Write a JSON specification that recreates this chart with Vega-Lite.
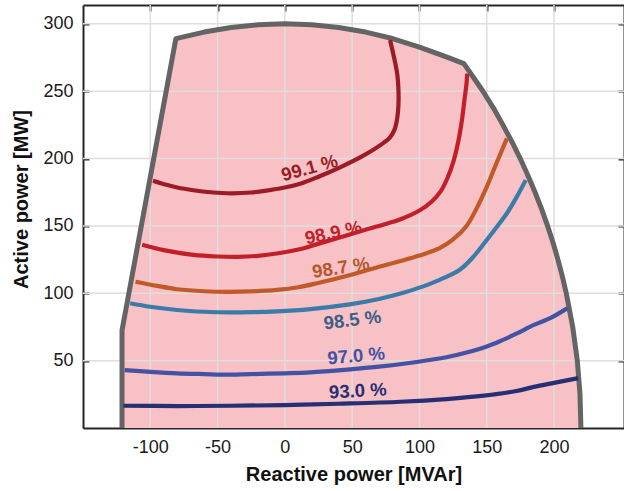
{
  "$schema": "https://vega.github.io/schema/vega-lite/v6.json",
  "width": 541,
  "height": 423,
  "autosize": {"type": "none"},
  "padding": {"left": 83, "top": 5, "right": 0, "bottom": 63},
  "background": "white",
  "config": {
    "view": {"stroke": null},
    "font": "Liberation Sans",
    "axis": {
      "domainColor": "#262626",
      "domainWidth": 2,
      "tickColor": "#262626",
      "tickWidth": 2,
      "tickSize": -6,
      "labelFont": "Liberation Sans",
      "labelFontSize": 18,
      "labelColor": "#1a1a1a",
      "titleFont": "Liberation Sans",
      "titleFontSize": 20,
      "titleFontWeight": "bold",
      "titleColor": "#111111",
      "grid": false
    }
  },
  "datasets": {
    "top": [
      {"q": -121, "p": 72.5}, {"q": -81, "p": 289}, {"q": -60, "p": 293.9}, {"q": -40, "p": 297.3},
      {"q": -20, "p": 299.3}, {"q": 0, "p": 300}, {"q": 20, "p": 299.3}, {"q": 40, "p": 297.3},
      {"q": 60, "p": 293.9}, {"q": 80, "p": 289.1}, {"q": 100, "p": 282.8}, {"q": 120, "p": 275.5},
      {"q": 133, "p": 270.5}, {"q": 140.3, "p": 260}, {"q": 147.2, "p": 250}, {"q": 155, "p": 237.5}, {"q": 162, "p": 225}, {"q": 168.7, "p": 212.5}, {"q": 174.9, "p": 200},
      {"q": 180.6, "p": 187.5}, {"q": 185.9, "p": 175}, {"q": 190.8, "p": 162.5}, {"q": 195.2, "p": 150}, {"q": 199.3, "p": 137.5}, {"q": 202.9, "p": 125}, {"q": 206.2, "p": 112.5}, {"q": 209.1, "p": 100},
      {"q": 213.9, "p": 75}, {"q": 217.3, "p": 50}, {"q": 219.3, "p": 25}, {"q": 220, "p": 0}
    ],
    "path": [
      {"i": 0, "q": -121, "p": 0}, {"i": 1, "q": -121, "p": 72.5}, {"i": 2, "q": -81, "p": 289},
      {"i": 3, "q": -60, "p": 293.9}, {"i": 4, "q": -40, "p": 297.3}, {"i": 5, "q": -20, "p": 299.3},
      {"i": 6, "q": 0, "p": 300}, {"i": 7, "q": 20, "p": 299.3}, {"i": 8, "q": 40, "p": 297.3},
      {"i": 9, "q": 60, "p": 293.9}, {"i": 10, "q": 80, "p": 289.1}, {"i": 11, "q": 100, "p": 282.8},
      {"i": 12, "q": 120, "p": 275.5}, {"i": 13, "q": 133, "p": 270.5}, {"i": 14, "q": 140.3, "p": 260}, {"i": 15, "q": 147.2, "p": 250},
      {"i": 16, "q": 155, "p": 237.5}, {"i": 17, "q": 162, "p": 225}, {"i": 18, "q": 168.7, "p": 212.5}, {"i": 19, "q": 174.9, "p": 200},
      {"i": 20, "q": 180.6, "p": 187.5}, {"i": 21, "q": 185.9, "p": 175}, {"i": 22, "q": 190.8, "p": 162.5},
      {"i": 23, "q": 195.2, "p": 150}, {"i": 24, "q": 199.3, "p": 137.5}, {"i": 25, "q": 202.9, "p": 125}, {"i": 26, "q": 206.2, "p": 112.5}, {"i": 27, "q": 209.1, "p": 100},
      {"i": 28, "q": 213.9, "p": 75}, {"i": 29, "q": 217.3, "p": 50}, {"i": 30, "q": 219.3, "p": 25},
      {"i": 31, "q": 220, "p": 0}
    ],
    "contours": [
      {"level": "99.1", "i": 0, "q": -98, "p": 183.6}, {"level": "99.1", "i": 1, "q": -88, "p": 180.5},
      {"level": "99.1", "i": 2, "q": -80, "p": 178.5}, {"level": "99.1", "i": 3, "q": -68, "p": 176.5},
      {"level": "99.1", "i": 4, "q": -55, "p": 175}, {"level": "99.1", "i": 5, "q": -40, "p": 174.2},
      {"level": "99.1", "i": 6, "q": -25, "p": 174.8}, {"level": "99.1", "i": 7, "q": -12, "p": 176.5},
      {"level": "99.1", "i": 8, "q": 0, "p": 178.5}, {"level": "99.1", "i": 9, "q": 12, "p": 181.5},
      {"level": "99.1", "i": 10, "q": 25, "p": 186.5}, {"level": "99.1", "i": 11, "q": 41, "p": 193.5},
      {"level": "99.1", "i": 12, "q": 58, "p": 202}, {"level": "99.1", "i": 13, "q": 71, "p": 210},
      {"level": "99.1", "i": 14, "q": 78, "p": 215.5}, {"level": "99.1", "i": 15, "q": 81.5, "p": 221.5},
      {"level": "99.1", "i": 16, "q": 83.5, "p": 230}, {"level": "99.1", "i": 17, "q": 84.4, "p": 240},
      {"level": "99.1", "i": 18, "q": 84.4, "p": 251}, {"level": "99.1", "i": 19, "q": 83.6, "p": 262},
      {"level": "99.1", "i": 20, "q": 82, "p": 271}, {"level": "99.1", "i": 21, "q": 80, "p": 280},
      {"level": "99.1", "i": 22, "q": 78.2, "p": 288},

      {"level": "98.9", "i": 0, "q": -106, "p": 136}, {"level": "98.9", "i": 1, "q": -90, "p": 132},
      {"level": "98.9", "i": 2, "q": -68, "p": 128.5}, {"level": "98.9", "i": 3, "q": -50, "p": 127.3},
      {"level": "98.9", "i": 4, "q": -35, "p": 127}, {"level": "98.9", "i": 5, "q": -20, "p": 127.8},
      {"level": "98.9", "i": 6, "q": -6, "p": 129.5}, {"level": "98.9", "i": 7, "q": 10, "p": 132.5},
      {"level": "98.9", "i": 8, "q": 24, "p": 136.5}, {"level": "98.9", "i": 9, "q": 42, "p": 141.8},
      {"level": "98.9", "i": 10, "q": 61, "p": 147.5}, {"level": "98.9", "i": 11, "q": 75, "p": 151.5},
      {"level": "98.9", "i": 12, "q": 86, "p": 155}, {"level": "98.9", "i": 13, "q": 100, "p": 161.5},
      {"level": "98.9", "i": 14, "q": 109, "p": 168}, {"level": "98.9", "i": 15, "q": 116, "p": 176},
      {"level": "98.9", "i": 16, "q": 121, "p": 186}, {"level": "98.9", "i": 17, "q": 125, "p": 197},
      {"level": "98.9", "i": 18, "q": 128.5, "p": 211}, {"level": "98.9", "i": 19, "q": 131.5, "p": 228},
      {"level": "98.9", "i": 20, "q": 133.5, "p": 244}, {"level": "98.9", "i": 21, "q": 135, "p": 256},
      {"level": "98.9", "i": 22, "q": 135.5, "p": 263},

      {"level": "98.7", "i": 0, "q": -111, "p": 108.6}, {"level": "98.7", "i": 1, "q": -95, "p": 105.5},
      {"level": "98.7", "i": 2, "q": -80, "p": 103}, {"level": "98.7", "i": 3, "q": -60, "p": 101.5},
      {"level": "98.7", "i": 4, "q": -43, "p": 101.1}, {"level": "98.7", "i": 5, "q": -25, "p": 101.4},
      {"level": "98.7", "i": 6, "q": -6, "p": 102.5}, {"level": "98.7", "i": 7, "q": 10, "p": 104.5},
      {"level": "98.7", "i": 8, "q": 24, "p": 107.5}, {"level": "98.7", "i": 9, "q": 50, "p": 114},
      {"level": "98.7", "i": 10, "q": 73, "p": 120.5}, {"level": "98.7", "i": 11, "q": 86, "p": 124},
      {"level": "98.7", "i": 12, "q": 100, "p": 128}, {"level": "98.7", "i": 13, "q": 115, "p": 133.5},
      {"level": "98.7", "i": 14, "q": 125, "p": 140}, {"level": "98.7", "i": 15, "q": 135, "p": 150},
      {"level": "98.7", "i": 16, "q": 143, "p": 164}, {"level": "98.7", "i": 17, "q": 150, "p": 179},
      {"level": "98.7", "i": 18, "q": 157, "p": 196}, {"level": "98.7", "i": 19, "q": 165, "p": 215},

      {"level": "98.5", "i": 0, "q": -115, "p": 92.6}, {"level": "98.5", "i": 1, "q": -100, "p": 90},
      {"level": "98.5", "i": 2, "q": -80, "p": 87.6}, {"level": "98.5", "i": 3, "q": -60, "p": 86.3},
      {"level": "98.5", "i": 4, "q": -43, "p": 85.9}, {"level": "98.5", "i": 5, "q": -25, "p": 86},
      {"level": "98.5", "i": 6, "q": -6, "p": 86.6}, {"level": "98.5", "i": 7, "q": 19, "p": 88.3},
      {"level": "98.5", "i": 8, "q": 48, "p": 91.8}, {"level": "98.5", "i": 9, "q": 70, "p": 95.8},
      {"level": "98.5", "i": 10, "q": 86, "p": 99.8}, {"level": "98.5", "i": 11, "q": 100, "p": 104.2},
      {"level": "98.5", "i": 12, "q": 115, "p": 110}, {"level": "98.5", "i": 13, "q": 130, "p": 117.5},
      {"level": "98.5", "i": 14, "q": 140, "p": 127}, {"level": "98.5", "i": 15, "q": 150, "p": 139.6},
      {"level": "98.5", "i": 16, "q": 158, "p": 150}, {"level": "98.5", "i": 17, "q": 165, "p": 159.4},
      {"level": "98.5", "i": 18, "q": 172, "p": 171}, {"level": "98.5", "i": 19, "q": 179, "p": 184},

      {"level": "97.0", "i": 0, "q": -119, "p": 43}, {"level": "97.0", "i": 1, "q": -100, "p": 41.7},
      {"level": "97.0", "i": 2, "q": -80, "p": 40.6}, {"level": "97.0", "i": 3, "q": -60, "p": 40},
      {"level": "97.0", "i": 4, "q": -43, "p": 39.6}, {"level": "97.0", "i": 5, "q": -26, "p": 40},
      {"level": "97.0", "i": 6, "q": 0, "p": 40.6}, {"level": "97.0", "i": 7, "q": 19, "p": 41.3},
      {"level": "97.0", "i": 8, "q": 48, "p": 43.5}, {"level": "97.0", "i": 9, "q": 70, "p": 45.5},
      {"level": "97.0", "i": 10, "q": 98, "p": 49}, {"level": "97.0", "i": 11, "q": 120, "p": 52.5},
      {"level": "97.0", "i": 12, "q": 135, "p": 56}, {"level": "97.0", "i": 13, "q": 150, "p": 60.5},
      {"level": "97.0", "i": 14, "q": 160, "p": 64.5}, {"level": "97.0", "i": 15, "q": 172, "p": 70},
      {"level": "97.0", "i": 16, "q": 185, "p": 76.5}, {"level": "97.0", "i": 17, "q": 198, "p": 82},
      {"level": "97.0", "i": 18, "q": 210, "p": 89},

      {"level": "93.0", "i": 0, "q": -120, "p": 16.5}, {"level": "93.0", "i": 1, "q": -80, "p": 16.3},
      {"level": "93.0", "i": 2, "q": -40, "p": 16.5}, {"level": "93.0", "i": 3, "q": 0, "p": 17},
      {"level": "93.0", "i": 4, "q": 40, "p": 18}, {"level": "93.0", "i": 5, "q": 86, "p": 19.5},
      {"level": "93.0", "i": 6, "q": 120, "p": 21.5}, {"level": "93.0", "i": 7, "q": 148, "p": 24},
      {"level": "93.0", "i": 8, "q": 172, "p": 27.5}, {"level": "93.0", "i": 9, "q": 185, "p": 30.5},
      {"level": "93.0", "i": 10, "q": 200, "p": 33.5}, {"level": "93.0", "i": 11, "q": 218, "p": 37}
    ],
    "labels": [
      {"level": "99.1", "q": 18.3, "p": 193, "text": "99.1 %"},
      {"level": "98.9", "q": 36.1, "p": 145, "text": "98.9 %"},
      {"level": "98.7", "q": 41.6, "p": 119, "text": "98.7 %"},
      {"level": "98.5", "q": 50.2, "p": 80.2, "text": "98.5 %"},
      {"level": "97.0", "q": 52.9, "p": 53.5, "text": "97.0 %"},
      {"level": "93.0", "q": 54.2, "p": 27.5, "text": "93.0 %"}
    ],
    "xgrid": [{"q": -100}, {"q": -50}, {"q": 0}, {"q": 50}, {"q": 100}, {"q": 150}, {"q": 200}],
    "ygrid": [{"p": 50}, {"p": 100}, {"p": 150}, {"p": 200}, {"p": 250}, {"p": 300}]
  },
  "layer": [
    {
      "data": {"name": "top"},
      "mark": {"type": "area", "color": "#f7c1c5", "opacity": 1},
      "encoding": {
        "x": {
          "field": "q", "type": "quantitative",
          "scale": {"domain": [-150, 252], "nice": false, "zero": false},
          "axis": {"orient": "bottom", "values": [-100, -50, 0, 50, 100, 150, 200], "labelExpr": "'' + datum.value", "title": "Reactive power [MVAr]", "labelPadding": 16, "titleY": 52, "titleBaseline": "alphabetic"}
        },
        "y": {
          "field": "p", "type": "quantitative",
          "scale": {"domain": [0, 314], "nice": false, "zero": false},
          "axis": {"orient": "left", "values": [50, 100, 150, 200, 250, 300], "title": "Active power [MW]", "labelPadding": 16, "titleX": -56, "titleY": 194, "titleBaseline": "alphabetic", "titleAlign": "center", "titleAngle": -90}
        },
        "y2": {"datum": 0}
      }
    },
    {
      "data": {"name": "xgrid"},
      "mark": {"type": "rule", "color": "#dedede", "strokeWidth": 1.5},
      "encoding": {"x": {"field": "q", "type": "quantitative", "axis": null}}
    },
    {
      "data": {"name": "ygrid"},
      "mark": {"type": "rule", "color": "#dedede", "strokeWidth": 1.5},
      "encoding": {"y": {"field": "p", "type": "quantitative", "axis": null}}
    },
    {
      "data": {"name": "path"},
      "mark": {"type": "line", "color": "#646464", "strokeWidth": 5, "strokeJoin": "round"},
      "encoding": {
        "x": {"field": "q", "type": "quantitative", "axis": null},
        "y": {"field": "p", "type": "quantitative", "axis": null},
        "order": {"field": "i", "type": "quantitative"}
      }
    },
    {
      "data": {"name": "contours"},
      "mark": {"type": "line", "strokeWidth": 4.2, "strokeCap": "butt", "strokeJoin": "round", "interpolate": "catmull-rom"},
      "encoding": {
        "x": {"field": "q", "type": "quantitative", "axis": {"orient": "top", "values": [-100, -50, 0, 50, 100, 150, 200], "labels": false, "title": null}},
        "y": {"field": "p", "type": "quantitative", "axis": {"orient": "right", "values": [50, 100, 150, 200, 250, 300], "labels": false, "title": null}},
        "order": {"field": "i", "type": "quantitative"},
        "stroke": {
          "field": "level", "type": "nominal", "legend": null,
          "scale": {"domain": ["99.1", "98.9", "98.7", "98.5", "97.0", "93.0"], "range": ["#9c1b24", "#c11f2a", "#c05a28", "#3b7ba9", "#4253a5", "#262e74"]}
        }
      }
    },
    {
      "data": {"name": "labels"},
      "transform": [{"filter": "datum.level == '99.1'"}],
      "mark": {"type": "text", "font": "Liberation Sans", "fontSize": 18.5, "fontWeight": "bold", "angle": 345, "color": "#9c1b24", "align": "center", "baseline": "middle"},
      "encoding": {"x": {"field": "q", "type": "quantitative", "axis": null}, "y": {"field": "p", "type": "quantitative", "axis": null}, "text": {"field": "text"}}
    },
    {
      "data": {"name": "labels"},
      "transform": [{"filter": "datum.level == '98.9'"}],
      "mark": {"type": "text", "font": "Liberation Sans", "fontSize": 18.5, "fontWeight": "bold", "angle": 348, "color": "#c11f2a", "align": "center", "baseline": "middle"},
      "encoding": {"x": {"field": "q", "type": "quantitative", "axis": null}, "y": {"field": "p", "type": "quantitative", "axis": null}, "text": {"field": "text"}}
    },
    {
      "data": {"name": "labels"},
      "transform": [{"filter": "datum.level == '98.7'"}],
      "mark": {"type": "text", "font": "Liberation Sans", "fontSize": 18.5, "fontWeight": "bold", "angle": 351, "color": "#b4582e", "align": "center", "baseline": "middle"},
      "encoding": {"x": {"field": "q", "type": "quantitative", "axis": null}, "y": {"field": "p", "type": "quantitative", "axis": null}, "text": {"field": "text"}}
    },
    {
      "data": {"name": "labels"},
      "transform": [{"filter": "datum.level == '98.5'"}],
      "mark": {"type": "text", "font": "Liberation Sans", "fontSize": 18.5, "fontWeight": "bold", "angle": 353, "color": "#3a5f82", "align": "center", "baseline": "middle"},
      "encoding": {"x": {"field": "q", "type": "quantitative", "axis": null}, "y": {"field": "p", "type": "quantitative", "axis": null}, "text": {"field": "text"}}
    },
    {
      "data": {"name": "labels"},
      "transform": [{"filter": "datum.level == '97.0'"}],
      "mark": {"type": "text", "font": "Liberation Sans", "fontSize": 18.5, "fontWeight": "bold", "angle": 355, "color": "#4253a5", "align": "center", "baseline": "middle"},
      "encoding": {"x": {"field": "q", "type": "quantitative", "axis": null}, "y": {"field": "p", "type": "quantitative", "axis": null}, "text": {"field": "text"}}
    },
    {
      "data": {"name": "labels"},
      "transform": [{"filter": "datum.level == '93.0'"}],
      "mark": {"type": "text", "font": "Liberation Sans", "fontSize": 18.5, "fontWeight": "bold", "angle": 357, "color": "#262e74", "align": "center", "baseline": "middle"},
      "encoding": {"x": {"field": "q", "type": "quantitative", "axis": null}, "y": {"field": "p", "type": "quantitative", "axis": null}, "text": {"field": "text"}}
    }
  ],
  "resolve": {"axis": {"x": "independent", "y": "independent"}}
}
